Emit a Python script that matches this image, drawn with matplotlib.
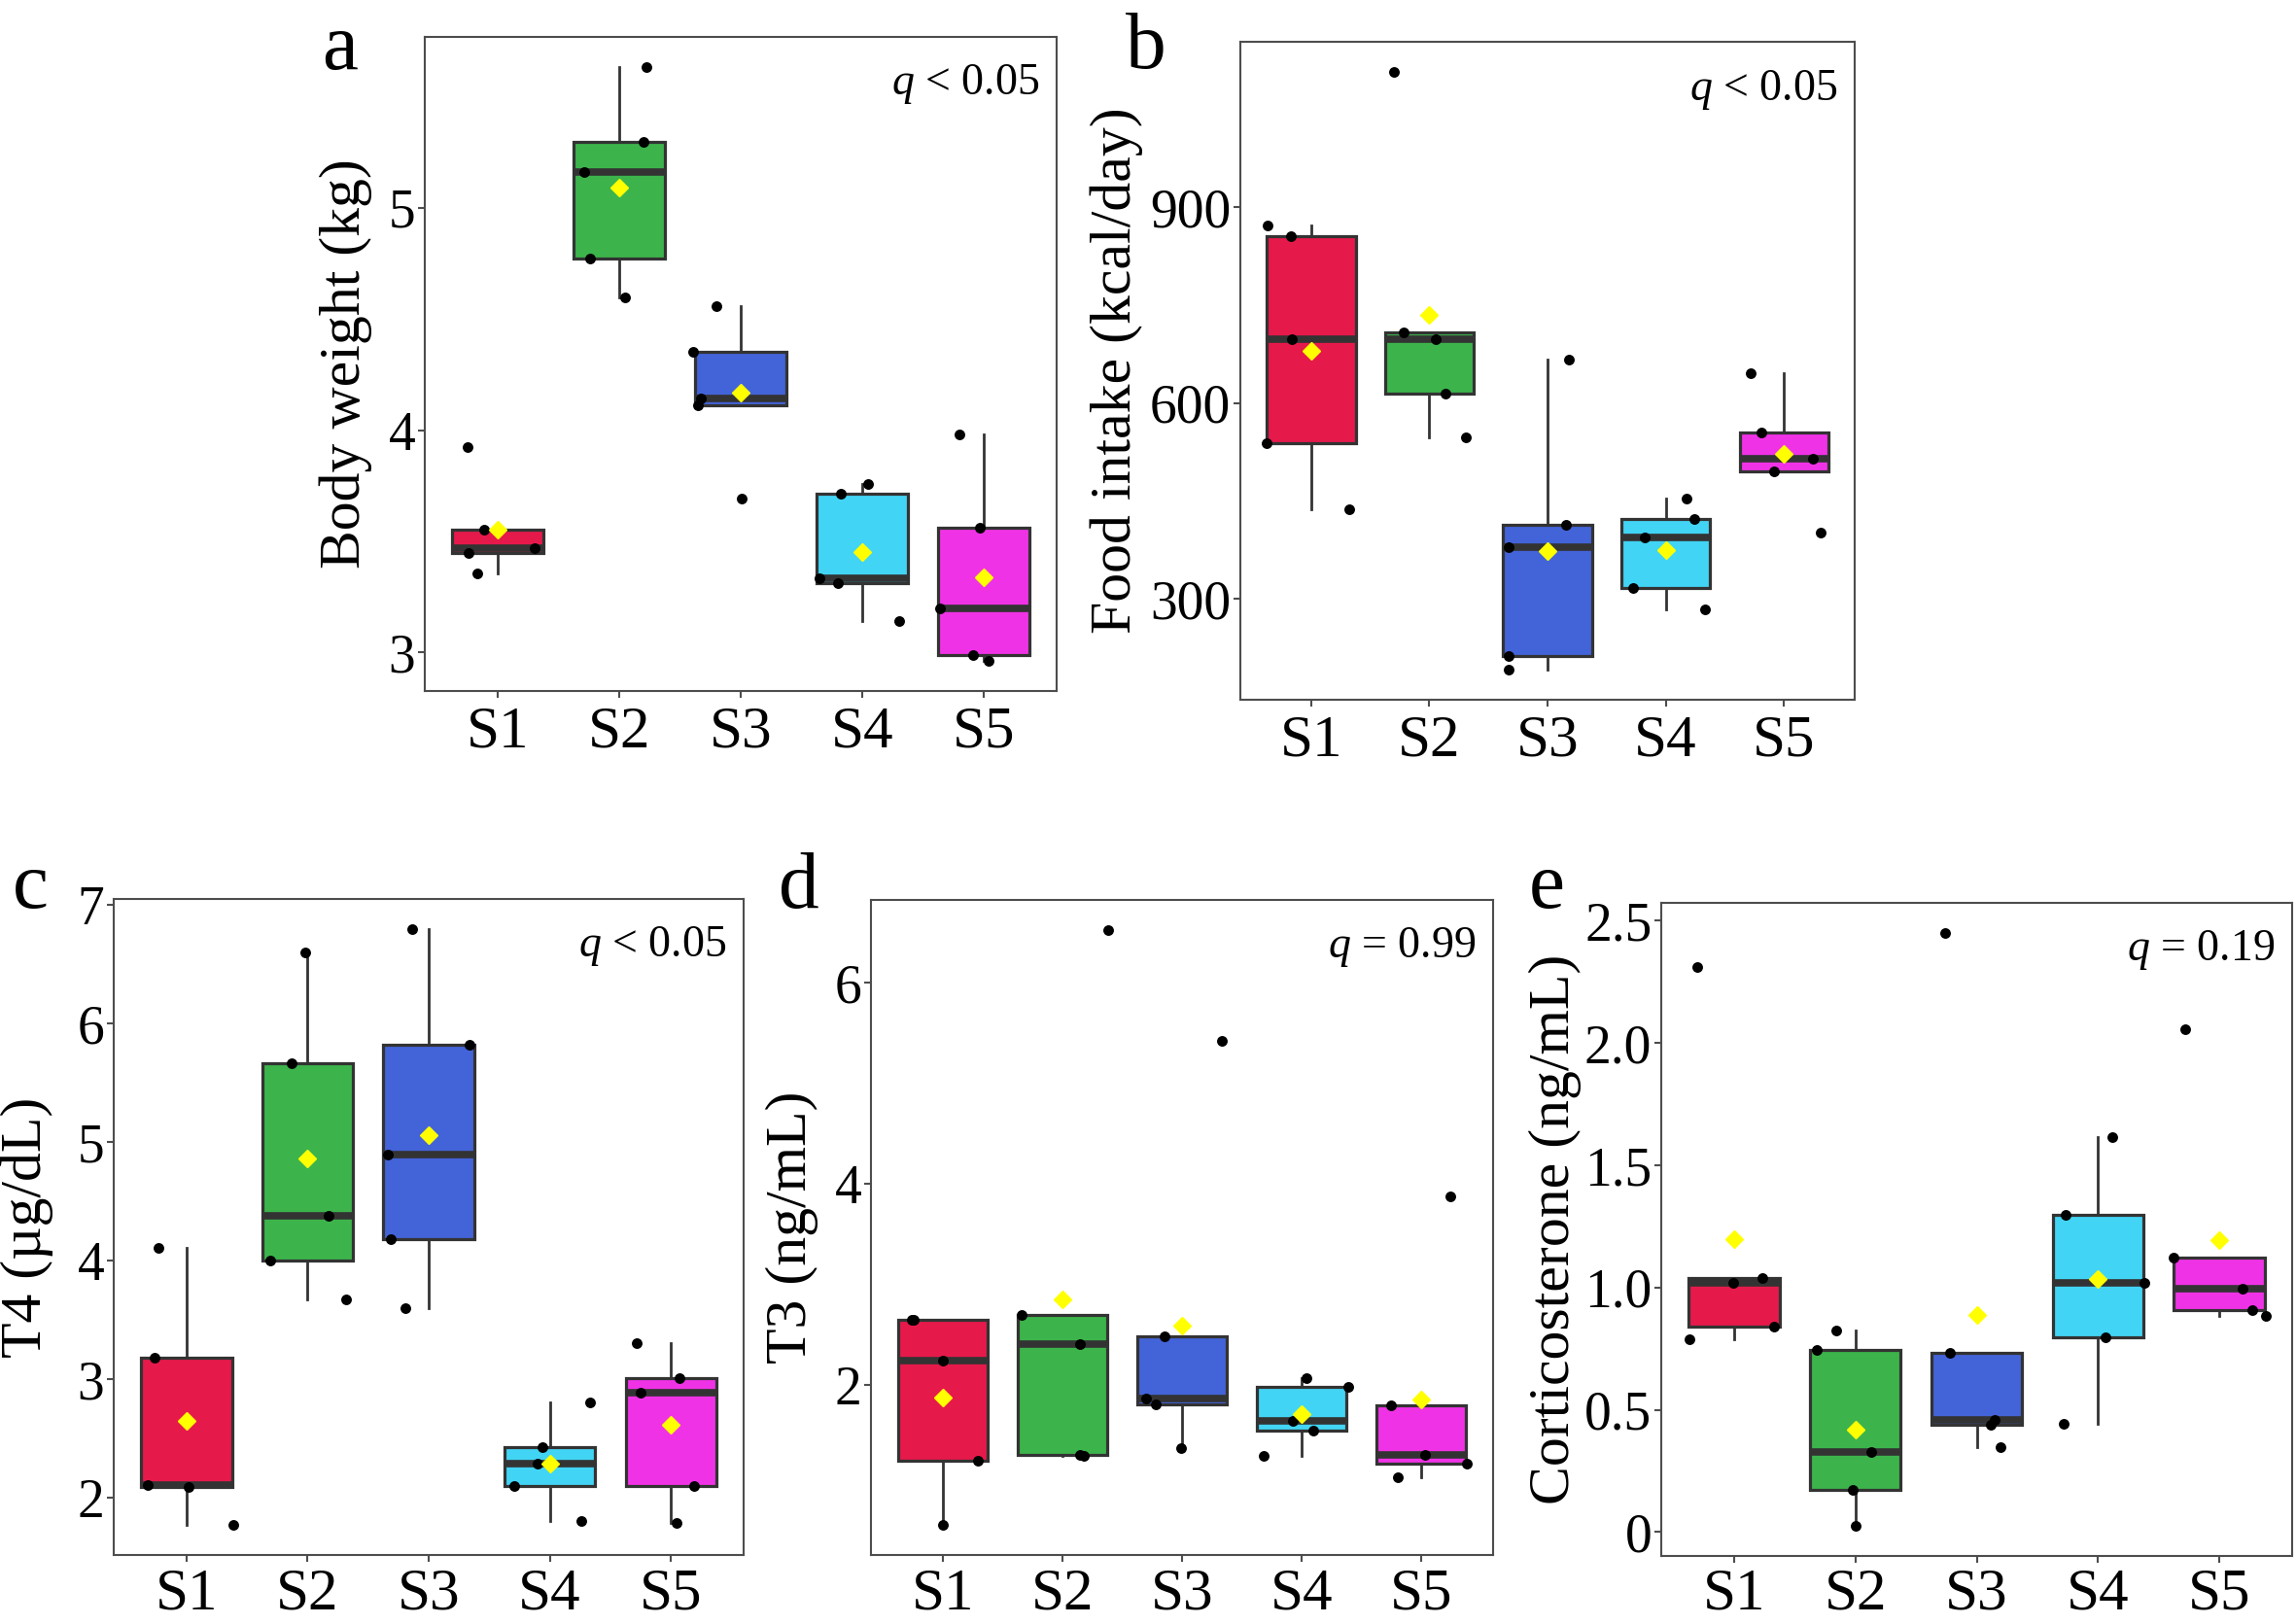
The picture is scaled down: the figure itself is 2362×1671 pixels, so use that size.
import numpy as np
import matplotlib
matplotlib.use("Agg")
import matplotlib.pyplot as plt

plt.rcParams['font.family'] = ['Liberation Serif', 'DejaVu Serif']
plt.rcParams['mathtext.fontset'] = 'custom'
plt.rcParams['mathtext.rm'] = 'Liberation Serif'
plt.rcParams['mathtext.it'] = 'Liberation Serif:italic'

groups = ['S1', 'S2', 'S3', 'S4', 'S5']
group_colors = ['#e6194b', '#3cb44b', '#4363d8', '#42d4f4', '#f032e6']

# a - body weight (kg), five animals per group
body_weight = [[3.924, 3.552, 3.447, 3.471, 3.357],
               [5.633, 5.296, 5.158, 4.770, 4.597],
               [4.558, 4.352, 4.140, 4.110, 3.690],
               [3.712, 3.756, 3.335, 3.313, 3.140],
               [3.979, 3.563, 3.197, 2.989, 2.961]]
body_weight_jit = [[-0.25, -0.11, -0.24, 0.30, -0.17],
                   [0.22, 0.20, -0.29, -0.24, 0.05],
                   [-0.20, -0.39, -0.33, -0.35, 0.01],
                   [-0.18, 0.05, -0.35, -0.20, 0.30],
                   [-0.20, -0.03, -0.36, -0.09, 0.04]]

# b - food intake (kcal/day)
food_intake = [[871.6, 855.2, 697.0, 538.8, 436.6],
               [1107.5, 707.5, 697.0, 614.2, 547.0],
               [666.4, 413.4, 379.1, 212.7, 191.0],
               [453.7, 421.6, 394.0, 316.4, 283.6],
               [644.8, 555.2, 514.2, 494.8, 402.0]]
food_intake_jit = [[-0.37, -0.17, -0.16, -0.38, 0.32],
                   [-0.30, -0.22, 0.05, 0.14, 0.31],
                   [0.18, 0.16, -0.33, -0.33, -0.33],
                   [0.18, 0.24, -0.18, -0.28, 0.33],
                   [-0.28, -0.19, 0.25, -0.08, 0.31]]

# c - T4 (ug/dL)
t4 = [[4.113, 3.181, 2.110, 2.090, 1.771],
      [6.601, 5.669, 4.380, 4.005, 3.672],
      [6.800, 5.820, 4.900, 4.184, 3.601],
      [2.428, 2.807, 2.287, 2.104, 1.805],
      [3.306, 3.015, 2.890, 2.100, 1.788]]
t4_jit = [[-0.23, -0.26, -0.32, 0.02, 0.39],
          [-0.02, -0.13, 0.17, -0.31, 0.32],
          [-0.14, 0.34, -0.34, -0.31, -0.19],
          [-0.06, 0.33, -0.10, -0.29, 0.26],
          [-0.28, 0.07, -0.25, 0.19, 0.05]]

# d - T3 (ng/mL)
t3 = [[2.645, 2.650, 2.240, 1.252, 0.606],
      [6.528, 2.694, 2.406, 1.310, 1.300],
      [5.418, 2.484, 1.863, 1.804, 1.374],
      [2.073, 1.980, 1.643, 1.545, 1.296],
      [3.878, 1.800, 1.310, 1.218, 1.086]]
t3_jit = [[-0.26, -0.24, 0.00, 0.29, 0.00],
          [0.38, -0.34, 0.15, 0.15, 0.18],
          [0.33, -0.15, -0.30, -0.22, -0.01],
          [0.04, 0.39, -0.07, 0.10, -0.32],
          [0.24, -0.25, 0.03, 0.38, -0.20]]

# e - corticosterone (ng/mL)
cort = [[2.312, 1.040, 1.020, 0.840, 0.788],
        [0.824, 0.746, 0.329, 0.172, 0.024],
        [2.452, 0.734, 0.461, 0.441, 0.349],
        [1.616, 1.297, 1.018, 0.796, 0.445],
        [2.055, 1.121, 0.994, 0.910, 0.884]]
cort_jit = [[-0.30, 0.23, -0.01, 0.33, -0.37],
            [-0.16, -0.32, 0.13, -0.02, 0.00],
            [-0.26, -0.22, 0.15, 0.12, 0.20],
            [0.12, -0.27, 0.38, 0.06, -0.28],
            [-0.28, -0.38, 0.19, 0.27, 0.38]]

panels = [
    dict(letter='a', box=(437, 38, 1087, 711), vals=body_weight, jit=body_weight_jit,
         ylabel='Body weight (kg)', yticks=[3, 4, 5], yticklabels=['3', '4', '5'],
         q='$q$ < 0.05', labx=-0.083, letter_xy=(331, 71), xpad=6),
    dict(letter='b', box=(1276, 43, 1908, 720), vals=food_intake, jit=food_intake_jit,
         ylabel='Food intake (kcal/day)', yticks=[300, 600, 900],
         yticklabels=['300', '600', '900'], q='$q$ < 0.05', labx=-0.158,
         letter_xy=(1158, 70), xpad=6),
    dict(letter='c', box=(117, 925, 765, 1600), vals=t4, jit=t4_jit,
         ylabel='T4 (µg/dL)', yticks=[2, 3, 4, 5, 6, 7],
         yticklabels=['2', '3', '4', '5', '6', '7'], q='$q$ < 0.05', labx=-0.096,
         letter_xy=(13, 934), xpad=4),
    dict(letter='d', box=(896, 926, 1536, 1600), vals=t3, jit=t3_jit,
         ylabel='T3 (ng/mL)', yticks=[2, 4, 6], yticklabels=['2', '4', '6'],
         q='$q$ = 0.99', labx=-0.085, letter_xy=(801, 934), xpad=4),
    dict(letter='e', box=(1709, 929, 2358, 1601), vals=cort, jit=cort_jit,
         ylabel='Corticosterone (ng/mL)', yticks=[0, 0.5, 1.0, 1.5, 2.0, 2.5],
         yticklabels=['0', '0.5', '1.0', '1.5', '2.0', '2.5'], q='$q$ = 0.19',
         labx=-0.126, letter_xy=(1573, 934), xpad=4),
]

W, H = 2362, 1671
fig = plt.figure(figsize=(W / 100, H / 100), dpi=100)
edge = '#333333'
spine_col = '#4d4d4d'
pos = np.arange(1, 6)

for p in panels:
    l, t, r, b = p['box']
    ax = fig.add_axes([l / W, 1 - b / H, (r - l) / W, (b - t) / H])
    vals = p['vals']
    bp = ax.boxplot(vals, positions=pos, widths=0.75, patch_artist=True,
                    showfliers=False, showcaps=False, whis=1.5,
                    boxprops=dict(edgecolor=edge, linewidth=2.3),
                    whiskerprops=dict(color=edge, linewidth=2.0),
                    medianprops=dict(color=edge, linewidth=5.5, solid_capstyle='butt'))
    for patch, c in zip(bp['boxes'], group_colors):
        patch.set_facecolor(c)
    for i in range(5):
        ax.scatter(pos[i] + np.array(p['jit'][i]), vals[i], s=62, color='black',
                   linewidths=0, zorder=3)
        ax.plot(pos[i], np.mean(vals[i]), marker='D', ms=9.5, color='#ffff00',
                mec='#ffff00', zorder=4)

    allv = np.concatenate([np.array(v) for v in vals])
    pad = 0.05 * (allv.max() - allv.min())
    ax.set_ylim(allv.min() - pad, allv.max() + pad)
    ax.set_xlim(0.4, 5.6)
    ax.set_xticks(pos)
    ax.set_xticklabels(groups, fontsize=44)
    ax.set_yticks(p['yticks'])
    ax.set_yticklabels(p['yticklabels'], fontsize=40)
    ax.tick_params(axis='both', length=5, width=1.5, color=spine_col)
    ax.tick_params(axis='x', pad=p['xpad'])
    ax.tick_params(axis='y', pad=2)
    for s in ax.spines.values():
        s.set_color(spine_col)
        s.set_linewidth(1.5)
    ax.set_ylabel(p['ylabel'], fontsize=43)
    ax.yaxis.set_label_coords(p['labx'], 0.5)
    ax.text(0.972, 0.912, p['q'], transform=ax.transAxes, ha='right', va='baseline',
            fontsize=33)
    lx, ly = p['letter_xy']
    fig.text(lx / W, 1 - ly / H, p['letter'], fontsize=60, ha='left', va='baseline')

fig.savefig('out.png', dpi=100)
